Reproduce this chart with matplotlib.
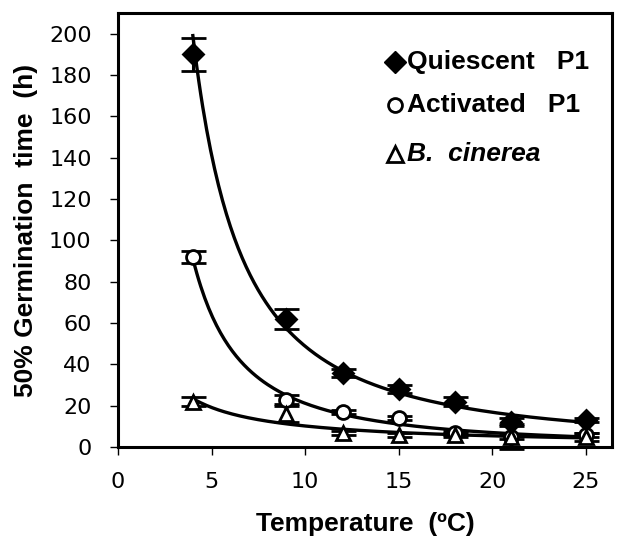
import numpy as np
import matplotlib.pyplot as plt

# Dados
temp = np.array([4, 9, 12, 15, 18, 21, 25])

quiescent = np.array([190, 62, 36, 28, 22, 12, 13])
quiescent_err = np.array([8, 5, 2, 2, 2, 2, 1])

activated = np.array([92, 23, 17, 14, 7, 5, 6])
activated_err = np.array([3, 2, 1, 1, 1, 1, 1])

cinerea = np.array([22, 16, 7, 6, 6, 5, 5])
cinerea_err = np.array([2, 4, 1, 1, 1, 6, 2])

plt.rcParams['font.family'] = ['Liberation Sans', 'DejaVu Sans']

fig = plt.figure(figsize=(6.31, 5.38), dpi=100)
ax = fig.add_axes([0.187, 0.169, 0.783, 0.807])


def power_fit(x, y):
    # linha de tendência do tipo potência (y = a * x^b)
    b, lna = np.polyfit(np.log(x), np.log(y), 1)
    xs = np.linspace(x.min(), x.max(), 200)
    return xs, np.exp(lna) * xs ** b


for y, yerr, mk, fc in [(quiescent, quiescent_err, 'D', 'black'),
                        (activated, activated_err, 'o', 'white'),
                        (cinerea, cinerea_err, '^', 'white')]:
    xs, ys = power_fit(temp, y)
    ax.plot(xs, ys, color='black', lw=2.4, zorder=2)
    ax.errorbar(temp, y, yerr=yerr, fmt=mk, color='black', mfc=fc,
                mec='black', mew=2, ms=10, capsize=9, capthick=2.4,
                elinewidth=2.2, zorder=3, clip_on=False)

ax.set_xlim(0, 26.4)
ax.set_ylim(0, 210)
ax.set_xticks(range(0, 26, 5))
ax.set_yticks(range(0, 201, 20))
ax.tick_params(direction='out', length=6, width=1, labelsize=16)
ax.tick_params(axis='x', pad=12)
ax.tick_params(axis='y', pad=13)
for lbl in ax.get_xticklabels() + ax.get_yticklabels():
    lbl.set_fontfamily('DejaVu Sans')
for s in ax.spines.values():
    s.set_linewidth(2.2)

ax.set_xlabel('Temperature  (ºC)', fontsize=19, fontweight='bold', labelpad=14)
ax.set_ylabel('50% Germination  time  (h)', fontsize=19, fontweight='bold', labelpad=8)

# Legenda manual
leg_y = [0.888, 0.789, 0.675]
ax.plot(0.561, leg_y[0], 'D', color='black', ms=11, transform=ax.transAxes)
ax.plot(0.561, leg_y[1], 'o', mfc='white', mec='black', mew=2, ms=10, transform=ax.transAxes)
ax.plot(0.561, leg_y[2], '^', mfc='white', mec='black', mew=2, ms=11, transform=ax.transAxes)
ax.text(0.585, leg_y[0], 'Quiescent   P1', transform=ax.transAxes, fontsize=19,
        fontweight='bold', va='center')
ax.text(0.585, leg_y[1], 'Activated   P1', transform=ax.transAxes, fontsize=19,
        fontweight='bold', va='center')
ax.text(0.585, leg_y[2], 'B.  cinerea', transform=ax.transAxes, fontsize=19,
        fontweight='bold', style='italic', va='center')

fig.savefig('out.png', dpi=100)
